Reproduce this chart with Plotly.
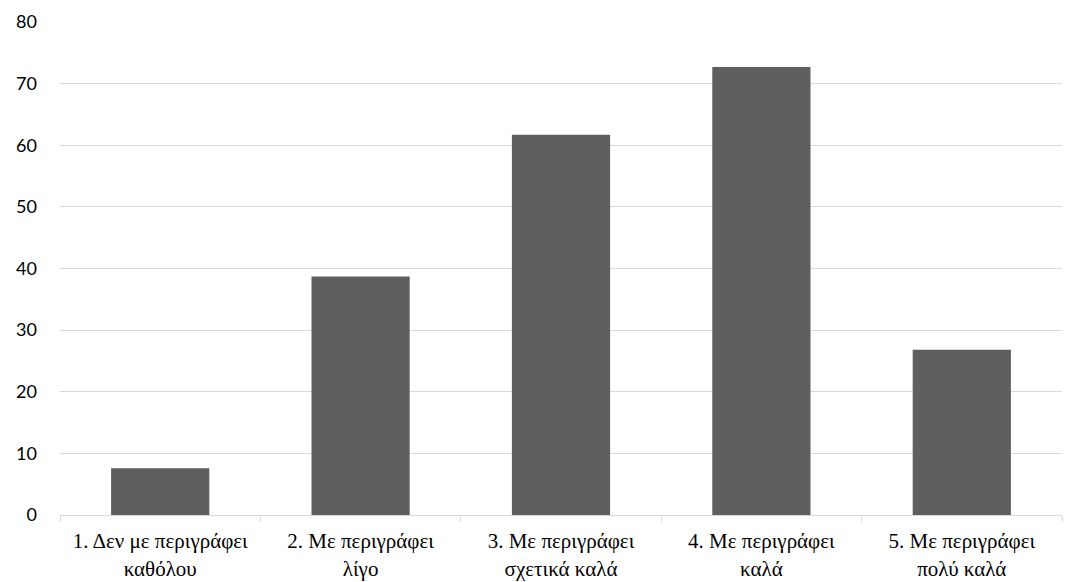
import plotly.graph_objects as go

categories = [
    "1. Δεν με περιγράφει<br>καθόλου",
    "2. Με περιγράφει<br>λίγο",
    "3. Με περιγράφει<br>σχετικά καλά",
    "4. Με περιγράφει<br>καλά",
    "5. Με περιγράφει<br>πολύ καλά",
]
values = [7.6, 38.7, 61.7, 72.7, 26.8]
y_ticks = [0, 10, 20, 30, 40, 50, 60, 70, 80]

fig = go.Figure(
    go.Bar(
        x=categories,
        y=values,
        marker=dict(color="#5f5f5f", line=dict(width=0)),
        width=0.49,
        hoverinfo="x+y",
    )
)

fig.update_layout(
    width=1078,
    height=582,
    margin=dict(l=60, r=16, t=22, b=67),
    plot_bgcolor="white",
    paper_bgcolor="white",
    showlegend=False,
    bargap=0.51,
)

fig.update_xaxes(
    automargin=False,
    showgrid=False,
    showline=True,
    linecolor="#d9d9d9",
    linewidth=1,
    ticks="outside",
    tickson="boundaries",
    ticklen=6,
    tickcolor="#d9d9d9",
    ticklabelstandoff=7,
    tickfont=dict(family="Times New Roman, Liberation Serif, serif", size=21, color="#000000"),
)

fig.update_yaxes(
    automargin=False,
    range=[0, 80],
    tickvals=y_ticks,
    showgrid=True,
    gridcolor="#d9d9d9",
    gridwidth=1,
    zeroline=False,
    showline=False,
    ticks="",
    ticklabelstandoff=22,
    tickfont=dict(family="Lato", size=18, color="#000000"),
)

fig.write_html("out.html")
